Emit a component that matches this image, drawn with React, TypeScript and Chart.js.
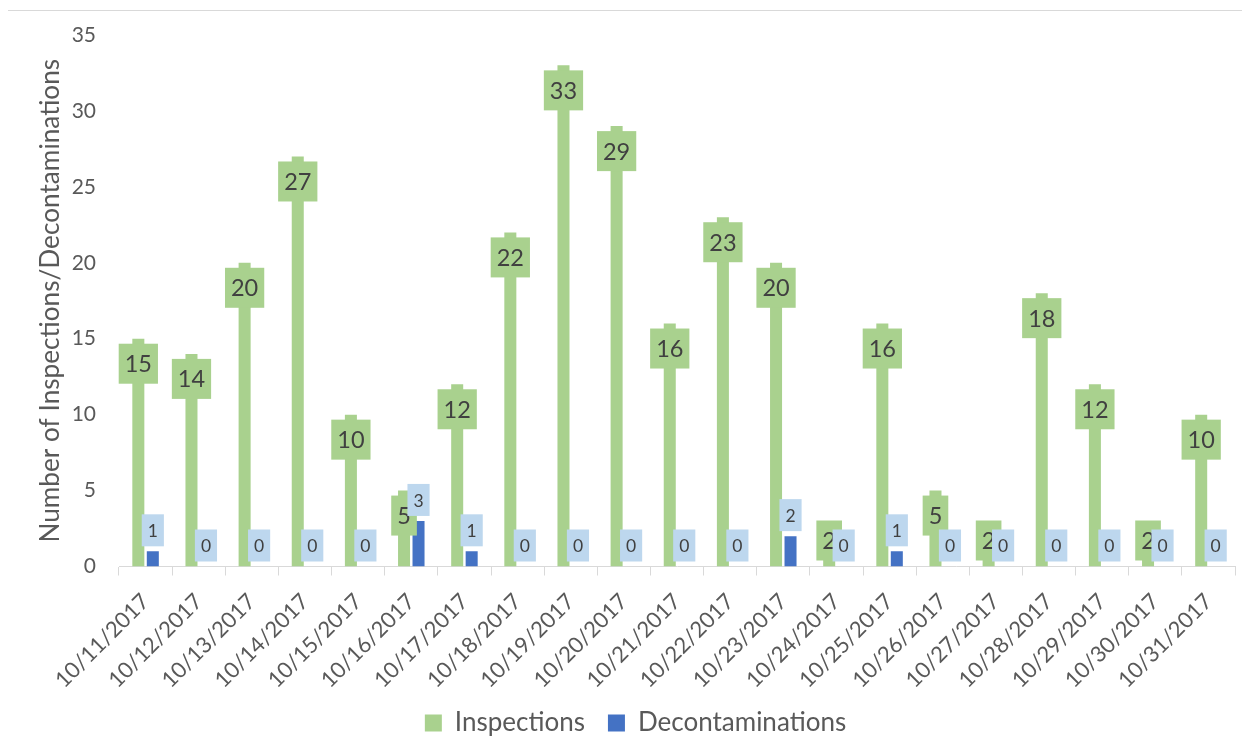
import React, { useEffect, useRef } from "react";
import { Chart, registerables } from "chart.js";

Chart.register(...registerables);

const categories = [
  "10/11/2017", "10/12/2017", "10/13/2017", "10/14/2017", "10/15/2017", "10/16/2017", "10/17/2017",
  "10/18/2017", "10/19/2017", "10/20/2017", "10/21/2017", "10/22/2017", "10/23/2017", "10/24/2017",
  "10/25/2017", "10/26/2017", "10/27/2017", "10/28/2017", "10/29/2017", "10/30/2017", "10/31/2017",
];
const inspections = [15, 14, 20, 27, 10, 5, 12, 22, 33, 29, 16, 23, 20, 2, 16, 5, 2, 18, 12, 2, 10];
const decontaminations = [1, 0, 0, 0, 0, 3, 1, 0, 0, 0, 0, 0, 2, 0, 1, 0, 0, 0, 0, 0, 0];
const seriesNames = ["Inspections", "Decontaminations"];
const yAxisTitle = "Number of Inspections/Decontaminations";
const yMin = 0;
const yMax = 35;
const yStep = 5;

const FONT = "Lato, 'Open Sans', sans-serif";
const GREEN = "#a9d18e";
const BLUE = "#4472c4";
const BLUE_LABEL = "#bdd7ee";
const LABEL_TEXT = "#404040";
const AXIS_TEXT = "#595959";
const LINE = "#d9d9d9";

const barLabelPlugin = {
  id: "barLabels",
  afterDatasetsDraw(chart: any) {
    const ctx = chart.ctx;
    ctx.save();
    ctx.textAlign = "center";
    ctx.textBaseline = "middle";

    // Inspections labels: inside end
    const m0 = chart.getDatasetMeta(0);
    ctx.font = `23.5px ${FONT}`;
    m0.data.forEach((bar: any, i: number) => {
      const txt = String(chart.data.datasets[0].data[i]);
      const w = ctx.measureText(txt).width + 12;
      const h = 40;
      let top = bar.y + 5;
      if (top + h > bar.base - 6) top = bar.base - 6 - h;
      ctx.fillStyle = GREEN;
      ctx.fillRect(bar.x - w / 2, top, w, h);
      ctx.fillStyle = LABEL_TEXT;
      ctx.fillText(txt, bar.x, top + h / 2 + 1);
    });

    // Decontaminations labels: outside end
    const m1 = chart.getDatasetMeta(1);
    ctx.font = `17.5px ${FONT}`;
    m1.data.forEach((bar: any, i: number) => {
      const txt = String(chart.data.datasets[1].data[i]);
      const w = ctx.measureText(txt).width + 12;
      const h = 32;
      const top = bar.y - 5 - h;
      ctx.fillStyle = BLUE_LABEL;
      ctx.fillRect(bar.x - w / 2, top, w, h);
      ctx.fillStyle = LABEL_TEXT;
      ctx.fillText(txt, bar.x, top + h / 2 + 1);
    });
    ctx.restore();
  },
};

export default function App() {
  const ref = useRef<HTMLCanvasElement | null>(null);

  useEffect(() => {
    if (!ref.current) return;
    const chart = new Chart(ref.current, {
      type: "bar",
      data: {
        labels: categories,
        datasets: [
          {
            label: seriesNames[0],
            data: inspections,
            backgroundColor: GREEN,
            barPercentage: 0.83,
            categoryPercentage: 0.545,
          },
          {
            label: seriesNames[1],
            data: decontaminations,
            backgroundColor: BLUE,
            barPercentage: 0.83,
            categoryPercentage: 0.545,
          },
        ],
      },
      options: {
        responsive: false,
        animation: false,
        layout: { padding: { left: 28, right: 7, top: 27, bottom: 0 } },
        plugins: {
          tooltip: { enabled: false },
          legend: {
            position: "bottom",
            labels: {
              boxWidth: 17,
              boxHeight: 17,
              padding: 23,
              color: AXIS_TEXT,
              font: { family: FONT, size: 26 },
            },
          },
        },
        scales: {
          x: {
            grid: {
              display: true,
              drawOnChartArea: false,
              drawTicks: true,
              tickLength: 9,
              color: LINE,
              offset: true,
            },
            border: { display: true, color: LINE, width: 1 },
            ticks: {
              autoSkip: false,
              minRotation: 45,
              maxRotation: 45,
              padding: 13,
              color: AXIS_TEXT,
              font: { family: FONT, size: 22 },
            },
            afterFit: (s: any) => {
              s.height = 120.5;
            },
          },
          y: {
            min: yMin,
            max: yMax,
            grid: { display: false, drawTicks: false },
            border: { display: false },
            ticks: {
              stepSize: yStep,
              padding: 23,
              color: AXIS_TEXT,
              font: { family: FONT, size: 21 },
            },
            title: {
              display: true,
              text: yAxisTitle,
              color: AXIS_TEXT,
              padding: { top: 0, bottom: 0 },
              font: { family: FONT, size: 26.2, lineHeight: 1.1 },
            },
            afterFit: (s: any) => {
              s.width = 83;
              s.paddingTop = 0;
              s.paddingBottom = 0;
            },
          },
        },
      },
      plugins: [barLabelPlugin],
    } as any);
    return () => chart.destroy();
  }, []);

  return (
    <div style={{ position: "relative", width: 1234, height: 738, marginBottom: -8 }}>
      <div
        style={{
          position: "absolute",
          left: -1,
          top: 2,
          right: 0,
          bottom: 0,
          borderTop: `1px solid ${LINE}`,
          borderLeft: `1px solid ${LINE}`,
          pointerEvents: "none",
        }}
      />
      <canvas ref={ref} width={1234} height={738} style={{ position: "relative", display: "block" }} />
    </div>
  );
}
